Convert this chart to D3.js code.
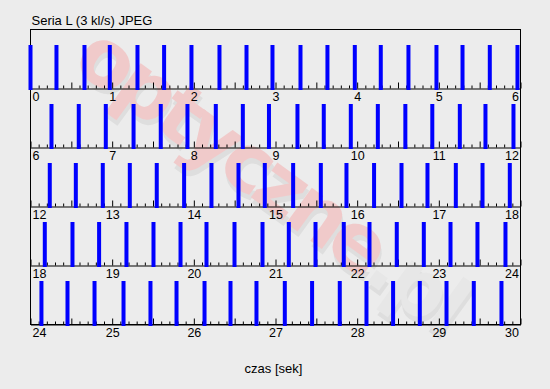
<!DOCTYPE html>
<html><head><meta charset="utf-8">
<script src="https://cdn.jsdelivr.net/npm/d3@7"></script>
<style>body{margin:0;background:#ececec;overflow:hidden}</style>
</head><body><svg id="c" width="550" height="389"></svg>
<script>
// ---- data ----
const title = "Seria L (3 kl/s) JPEG";
const xLabel = "czas [sek]";
const rowStarts = [0, 6, 12, 18, 24];
const rowSpan = 6;
const frameTimes = [
  0, 0.318, 0.661, 0.971, 1.31, 1.636, 1.971, 2.314, 2.645, 2.963, 3.306, 3.636, 3.971, 4.289, 4.628, 4.971, 5.29, 5.624, 5.963,
  6.257, 6.591, 6.922, 7.262, 7.595, 7.922, 8.269, 8.6, 8.92, 9.269, 9.591, 9.922, 10.253, 10.59, 10.92, 11.257, 11.571, 11.914,
  12.236, 12.555, 12.885, 13.216, 13.546, 13.881, 14.216, 14.547, 14.869, 15.216, 15.555, 15.869, 16.207, 16.543, 16.861, 17.208, 17.535, 17.869,
  18.175, 18.514, 18.84, 19.175, 19.506, 19.837, 20.155, 20.498, 20.841, 21.163, 21.49, 21.836, 22.151, 22.485, 22.816, 23.143, 23.473, 23.816,
  24.134, 24.453, 24.784, 25.139, 25.469, 25.788, 26.131, 26.449, 26.767, 27.114, 27.448, 27.787, 28.114, 28.44, 28.767, 29.094, 29.428, 29.767
];
const frameLevel = 1;
const watermarkMain = "optyczne";
const watermarkTail = ".pl";

// ---- layout ----
const plotLeft = 30.5, plotRight = 520.5, plotTop = 29.5, rowH = 59;
const font = "'Liberation Sans', Arial, sans-serif";
const svg = d3.select("#c");
svg.append("rect").attr("width", 550).attr("height", 389).attr("fill", "#ececec");

// watermark
const wm = svg.append("g").attr("transform", "translate(70,66) rotate(36)")
  .style("font-family", "'DejaVu Sans', sans-serif").style("font-weight", "bold")
  .style("font-size", "80px").style("letter-spacing", "-6px");
const wmShadow = wm.append("text").attr("x", 4).attr("y", 4).attr("fill", "#dedede");
wmShadow.append("tspan").text(watermarkMain);
wmShadow.append("tspan").text(watermarkTail);
const wmText = wm.append("text").attr("x", 0).attr("y", 0);
wmText.append("tspan").attr("fill", "#f0caca").text(watermarkMain);
wmText.append("tspan").attr("fill", "#e7e7e7").text(watermarkTail);

// title
svg.append("text").attr("x", 31.5).attr("y", 25).text(title)
  .style("font-family", font).style("font-size", "13px").attr("fill", "#000");

const rowsInfo = [];
rowStarts.forEach((start, r) => {
  const rowTop = plotTop + r * rowH, rowBottom = rowTop + rowH;
  const x = d3.scaleLinear().domain([start, start + rowSpan]).range([plotLeft, plotRight]);
  const y = d3.scaleLinear().domain([0, frameLevel]).range([rowBottom + 1.5, rowTop + 15.5]);

  const minor = d3.range(1, rowSpan * 10).filter(i => i % 5 !== 0).map(i => start + i / 10);
  const half = d3.range(0, rowSpan).map(i => start + i + 0.5);
  const major = d3.range(0, rowSpan + 1).map(i => start + i);

  const gMinor = svg.append("g").attr("transform", `translate(0,${rowBottom})`)
    .call(d3.axisBottom(x).tickValues(minor).tickSizeInner(-3).tickSizeOuter(0).tickFormat(""));
  gMinor.select(".domain").remove();
  const gHalf = svg.append("g").attr("transform", `translate(0,${rowBottom})`)
    .call(d3.axisBottom(x).tickValues(half).tickSizeInner(-6).tickSizeOuter(0).tickFormat(""));
  gHalf.select(".domain").remove();
  const gMajor = svg.append("g").attr("transform", `translate(0,${rowBottom})`)
    .call(d3.axisBottom(x).tickValues(major).tickSizeInner(-6).tickSizeOuter(0).tickPadding(4).tickFormat(d3.format("d")));
  gMajor.attr("font-family", font).attr("font-size", 12.5);
  gMajor.selectAll(".tick text").attr("fill", "#000")
    .attr("text-anchor", (d, i) => i === 0 ? "start" : (i === major.length - 1 ? "end" : "middle"))
    .attr("dx", (d, i) => i === 0 ? 1.5 : (i === major.length - 1 ? -2 : 0));
  svg.selectAll("g .tick line").attr("stroke", "#000");
  svg.selectAll("g .domain").attr("stroke", "#000");

  rowsInfo.push({ start, x, y });
});

// frame
svg.append("rect").attr("x", plotLeft).attr("y", plotTop).attr("width", plotRight - plotLeft).attr("height", rowH * rowStarts.length)
  .attr("fill", "none").attr("stroke", "#000");

// bars
rowsInfo.forEach(({ start, x, y }) => {
  const data = frameTimes.filter(t => t >= start && t < start + rowSpan);
  svg.append("g").selectAll("rect").data(data).join("rect")
    .attr("x", d => x(d) - 2).attr("width", 4)
    .attr("y", y(frameLevel)).attr("height", y(0) - y(frameLevel))
    .attr("fill", "#0000ff");
});

// x label
svg.append("text").attr("x", 273.5).attr("y", 373).attr("text-anchor", "middle").text(xLabel)
  .style("font-family", font).style("font-size", "13px").attr("fill", "#000");
</script></body></html>
